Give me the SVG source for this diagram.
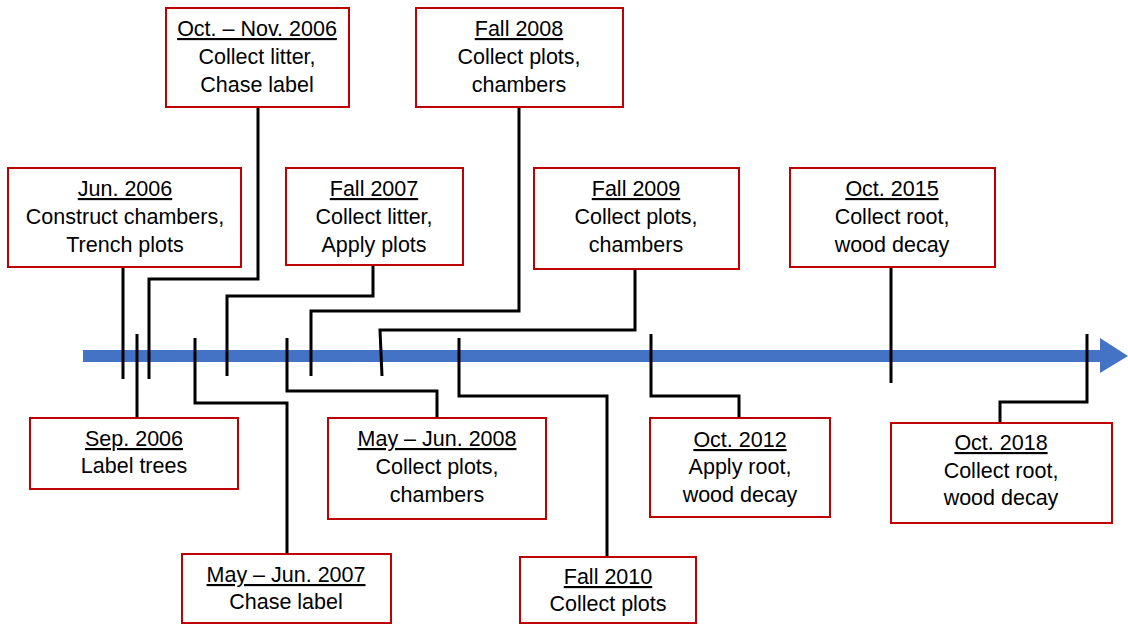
<svg xmlns="http://www.w3.org/2000/svg" width="1128" height="625" viewBox="0 0 1128 625">
<style>
.box{fill:#fff;stroke:#C00000;stroke-width:2}
text{font-family:"Liberation Sans",Arial,sans-serif;font-size:21.5px;fill:#000;text-anchor:middle}
.t{text-decoration:underline}
.c{fill:none;stroke:#000;stroke-width:3}
</style>
<rect x="0" y="0" width="1128" height="625" fill="#fff"/>
<g id="axis">
<line x1="83" y1="356" x2="1102" y2="356" stroke="#4472C4" stroke-width="12"/>
<polygon points="1100,338 1128,356 1100,373" fill="#4472C4"/>
</g>
<g id="connectors">
<path class="c" d="M123,267 V379"/>
<path class="c" d="M137,418 V334"/>
<path class="c" d="M258,107 V279 H149 V379"/>
<path class="c" d="M195,338 V403 H287 V554"/>
<path class="c" d="M373,265 V296 H227 V376"/>
<path class="c" d="M287,338 V391 H437 V418"/>
<path class="c" d="M519,107 V311 H311 V376"/>
<path class="c" d="M635,269 V330 H380 L382,376"/>
<path class="c" d="M459,338 V396 H607 V557"/>
<path class="c" d="M651,334 V396 H739 V418"/>
<path class="c" d="M891,267 V383"/>
<path class="c" d="M1087,334 V402 H1000 V423"/>
</g>
<g id="jun2006">
<rect class="box" x="8" y="168" width="233" height="99"/>
<text x="125" y="196" class="t">Jun. 2006</text>
<text x="125" y="224">Construct chambers,</text>
<text x="125" y="252">Trench plots</text>
</g>
<g id="octnov2006">
<rect class="box" x="166" y="8" width="183" height="99"/>
<text x="257" y="36" class="t">Oct. – Nov. 2006</text>
<text x="257" y="64">Collect litter,</text>
<text x="257" y="92">Chase label</text>
</g>
<g id="fall2008">
<rect class="box" x="416" y="8" width="207" height="99"/>
<text x="519" y="36" class="t">Fall 2008</text>
<text x="519" y="64">Collect plots,</text>
<text x="519" y="92">chambers</text>
</g>
<g id="fall2007">
<rect class="box" x="286" y="168" width="177" height="97"/>
<text x="374" y="196" class="t">Fall 2007</text>
<text x="374" y="224">Collect litter,</text>
<text x="374" y="252">Apply plots</text>
</g>
<g id="fall2009">
<rect class="box" x="534" y="168" width="205" height="101"/>
<text x="636" y="196" class="t">Fall 2009</text>
<text x="636" y="224">Collect plots,</text>
<text x="636" y="252">chambers</text>
</g>
<g id="oct2015">
<rect class="box" x="790" y="168" width="205" height="99"/>
<text x="892" y="196" class="t">Oct. 2015</text>
<text x="892" y="224">Collect root,</text>
<text x="892" y="252">wood decay</text>
</g>
<g id="sep2006">
<rect class="box" x="30" y="418" width="208" height="71"/>
<text x="134" y="446" class="t">Sep. 2006</text>
<text x="134" y="473">Label trees</text>
</g>
<g id="mayjun2008">
<rect class="box" x="328" y="418" width="218" height="101"/>
<text x="437" y="446" class="t">May – Jun. 2008</text>
<text x="437" y="474">Collect plots,</text>
<text x="437" y="502">chambers</text>
</g>
<g id="mayjun2007">
<rect class="box" x="182" y="554" width="209" height="69"/>
<text x="286" y="582" class="t">May – Jun. 2007</text>
<text x="286" y="609">Chase label</text>
</g>
<g id="fall2010">
<rect class="box" x="520" y="557" width="176" height="66"/>
<text x="608" y="584" class="t">Fall 2010</text>
<text x="608" y="611">Collect plots</text>
</g>
<g id="oct2012">
<rect class="box" x="650" y="418" width="180" height="99"/>
<text x="740" y="447" class="t">Oct. 2012</text>
<text x="740" y="474">Apply root,</text>
<text x="740" y="502">wood decay</text>
</g>
<g id="oct2018">
<rect class="box" x="891" y="423" width="221" height="100"/>
<text x="1001" y="450" class="t">Oct. 2018</text>
<text x="1001" y="478">Collect root,</text>
<text x="1001" y="505">wood decay</text>
</g>
</svg>
